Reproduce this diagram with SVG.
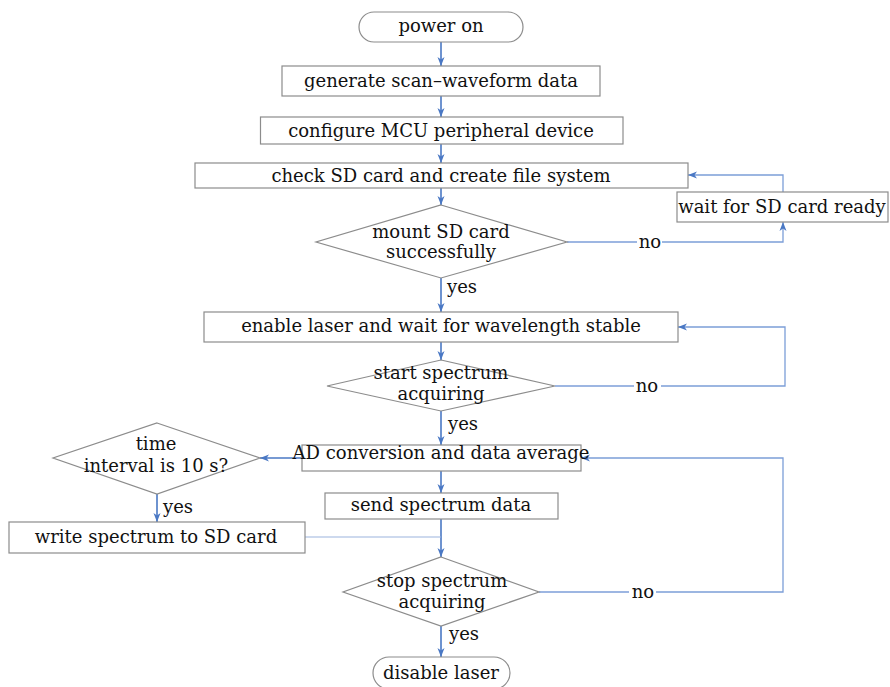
<svg xmlns="http://www.w3.org/2000/svg" width="890" height="687" viewBox="0 0 890 687">
<style>
text{font-family:"DejaVu Serif","Liberation Serif",serif;font-size:18px;fill:#111;text-anchor:middle}
.n{fill:#fff;stroke:#8c8c8c;stroke-width:1.2}
.a{fill:none;stroke:#4a78c4;stroke-width:1.6}
.l{fill:none;stroke:#7c9ed8;stroke-width:1.3}
.w{fill:none;stroke:#9cb4de;stroke-width:1.1}
.lb{text-anchor:start}
</style>
<defs>
<marker id="ah" markerWidth="10" markerHeight="8" refX="9" refY="4" orient="auto" markerUnits="userSpaceOnUse">
<path d="M0,0.5 L9,4 L0,7.5 L2.5,4 z" fill="#4a78c4"/>
</marker>
</defs>
<g id="connectors">
<line class="a" x1="441" y1="42" x2="441" y2="66" marker-end="url(#ah)"/>
<line class="a" x1="441" y1="96" x2="441" y2="117" marker-end="url(#ah)"/>
<line class="a" x1="441" y1="144" x2="441" y2="163" marker-end="url(#ah)"/>
<line class="a" x1="441" y1="188" x2="441" y2="205" marker-end="url(#ah)"/>
<line class="a" x1="441" y1="278" x2="441" y2="312" marker-end="url(#ah)"/>
<line class="a" x1="441" y1="342" x2="441" y2="360" marker-end="url(#ah)"/>
<line class="a" x1="441" y1="411" x2="441" y2="445" marker-end="url(#ah)"/>
<line class="a" x1="441" y1="471" x2="441" y2="493" marker-end="url(#ah)"/>
<line class="a" x1="441" y1="519" x2="441" y2="557" marker-end="url(#ah)"/>
<line class="a" x1="441" y1="626" x2="441" y2="657" marker-end="url(#ah)"/>
<polyline class="l" points="567,242 637,242"/>
<polyline class="l" points="662,242 783,242 783,222" marker-end="url(#ah)"/>
<polyline class="l" points="783,192 783,175 688,175" marker-end="url(#ah)"/>
<polyline class="l" points="555,386 634,386"/>
<polyline class="l" points="661,386 785,386 785,327 678,327" marker-end="url(#ah)"/>
<line class="a" x1="302" y1="458" x2="260" y2="458" marker-end="url(#ah)"/>
<line class="a" x1="157" y1="494" x2="157" y2="522" marker-end="url(#ah)"/>
<line class="w" x1="305" y1="537" x2="441" y2="537"/>
<polyline class="l" points="539,592 629,592"/>
<polyline class="l" points="656,592 783,592 783,458 581,458" marker-end="url(#ah)"/>
<text x="650" y="248">no</text>
<text x="647" y="392">no</text>
<text x="643" y="598">no</text>
<text class="lb" x="447" y="293">yes</text>
<text class="lb" x="448" y="430">yes</text>
<text class="lb" x="163" y="513">yes</text>
<text class="lb" x="449" y="640">yes</text>
</g>
<g id="power-on"><rect class="n" x="359" y="12" width="164" height="30" rx="15"/><text x="441" y="32">power on</text></g>
<g id="generate"><rect class="n" x="282" y="66" width="318" height="30"/><text x="441" y="87">generate scan–waveform data</text></g>
<g id="configure"><rect class="n" x="260.5" y="117" width="362.5" height="27"/><text x="441" y="137">configure MCU peripheral device</text></g>
<g id="check"><rect class="n" x="195" y="163" width="493" height="25"/><text x="441" y="182">check SD card and create file system</text></g>
<g id="wait"><rect class="n" x="677" y="192" width="211" height="30"/><text x="782" y="213">wait for SD card ready</text></g>
<g id="mount"><polygon class="n" points="441,205 567,242 441,278 316,242"/><text x="441" y="238">mount SD card</text><text x="441" y="258">successfully</text></g>
<g id="enable"><rect class="n" x="204" y="312" width="474" height="30"/><text x="441" y="332">enable laser and wait for wavelength stable</text></g>
<g id="start"><polygon class="n" points="441,360 555,386 441,411 327,386" fill-opacity="0"/><text x="441" y="379">start spectrum</text><text x="441" y="400">acquiring</text></g>
<g id="ad"><rect class="n" x="302" y="445" width="279" height="26"/><text x="441" y="459">AD conversion and data average</text></g>
<g id="time"><polygon class="n" points="157,423 260,458 157,494 53,458"/><text x="156" y="450">time</text><text x="156" y="472">interval is 10 s?</text></g>
<g id="send"><rect class="n" x="325" y="493" width="233" height="26"/><text x="441" y="511">send spectrum data</text></g>
<g id="write"><rect class="n" x="9" y="522" width="296" height="31"/><text x="156" y="543">write spectrum to SD card</text></g>
<g id="stop"><polygon class="n" points="441,557 539,592 441,626 343,592"/><text x="442" y="587">stop spectrum</text><text x="442" y="608">acquiring</text></g>
<g id="disable"><rect class="n" x="373" y="657" width="137" height="32" rx="16"/><text x="441" y="679">disable laser</text></g>
</svg>
